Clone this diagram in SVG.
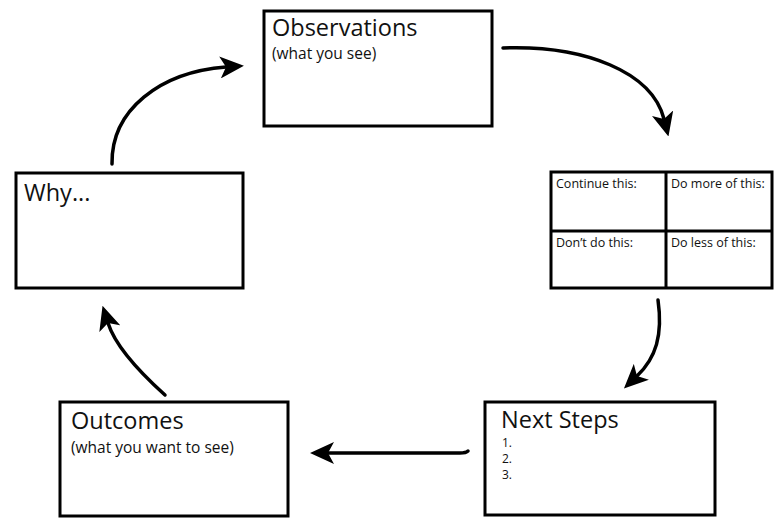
<svg xmlns="http://www.w3.org/2000/svg" width="774" height="518" viewBox="0 0 774 518">
<style>
.box{fill:#fff;stroke:#000;stroke-width:3}
.ln{stroke:#000;stroke-width:3;fill:none}
.t{font-family:"Open Sans","Noto Sans",sans-serif;fill:#111}
.big{font-size:23.5px}
.sub{font-size:15.5px}
.sm{font-size:12.5px}
.num{font-size:12px}
.arr{fill:none;stroke:#000;stroke-width:3.5;stroke-linecap:round;marker-end:url(#ah)}
</style>
<defs>
<marker id="ah" markerUnits="userSpaceOnUse" viewBox="0 0 24 22" markerWidth="24" markerHeight="22" refX="6" refY="11" orient="auto">
<path d="M0,0 L24,11 L0,22 L6,11 z" fill="#000"/>
</marker>
</defs>
<rect width="774" height="518" fill="#fff"/>
<g id="connectors">
<path class="arr" d="M112,164 C111,110 160,72 226,67"/>
<path class="arr" d="M503,48 C585,45 652,72 664,119"/>
<path class="arr" d="M658,300 C663,335 656,358 637,376"/>
<path class="arr" d="M468,451 Q466,453 460,453 L328,453"/>
<path class="arr" d="M165,395 C135,368 115,345 108,323"/>
</g>
<g id="observations">
<rect class="box" x="264" y="11" width="228" height="115"/>
<text class="t big" x="272" y="36">Observations</text>
<text class="t sub" x="272" y="59">(what you see)</text>
</g>
<g id="feedback-grid">
<rect class="box" x="551" y="172" width="221" height="116"/>
<line class="ln" x1="666" y1="172" x2="666" y2="288"/>
<line class="ln" x1="551" y1="231" x2="772" y2="231"/>
<text class="t sm" x="556" y="188">Continue this:</text>
<text class="t sm" x="671" y="188">Do more of this:</text>
<text class="t sm" x="556" y="247">Don’t do this:</text>
<text class="t sm" x="671" y="247">Do less of this:</text>
</g>
<g id="why">
<rect class="box" x="16" y="173" width="227" height="115"/>
<text class="t big" x="24" y="201">Why...</text>
</g>
<g id="outcomes">
<rect class="box" x="60" y="402" width="228" height="114"/>
<text class="t big" x="71" y="429">Outcomes</text>
<text class="t sub" x="71" y="453">(what you want to see)</text>
</g>
<g id="next-steps">
<rect class="box" x="485" y="402" width="230" height="113"/>
<text class="t big" x="501" y="428">Next Steps</text>
<text class="t num" x="502" y="447">1.</text>
<text class="t num" x="502" y="463">2.</text>
<text class="t num" x="502" y="479">3.</text>
</g>
</svg>
